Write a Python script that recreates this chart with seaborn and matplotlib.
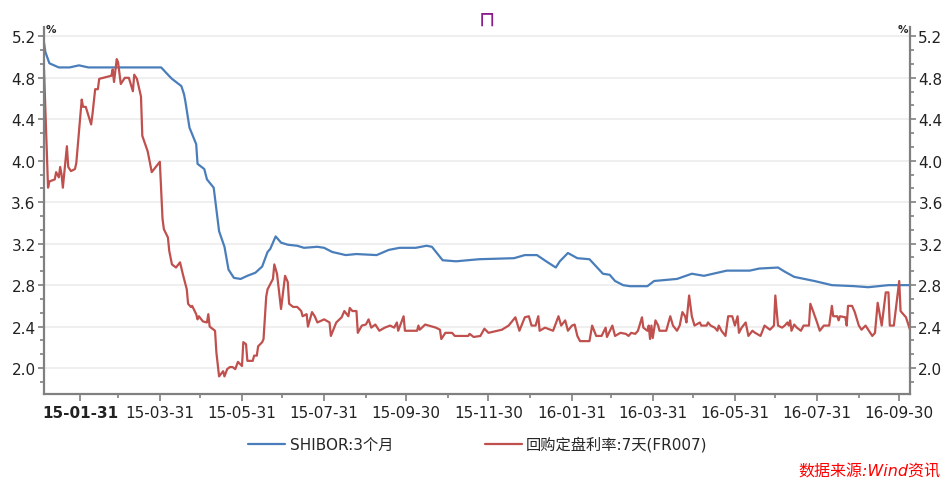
import pandas as pd
import matplotlib
matplotlib.use("Agg")
import matplotlib.pyplot as plt
import matplotlib.dates as mdates
from matplotlib.ticker import MultipleLocator, FormatStrFormatter
import seaborn as sns

# SHIBOR 3M (%)
shibor_dates = [
    "2015-01-04", "2015-01-05", "2015-01-08", "2015-01-15", "2015-01-23", "2015-01-30",
    "2015-02-06", "2015-04-01", "2015-04-06", "2015-04-09", "2015-04-16", "2015-04-18",
    "2015-04-19", "2015-04-22", "2015-04-27", "2015-04-28", "2015-05-03", "2015-05-05",
    "2015-05-10", "2015-05-14", "2015-05-18", "2015-05-21", "2015-05-25", "2015-05-30",
    "2015-06-04", "2015-06-10", "2015-06-15", "2015-06-19", "2015-06-21", "2015-06-25",
    "2015-06-29", "2015-07-04", "2015-07-11", "2015-07-16", "2015-07-26", "2015-07-31",
    "2015-08-06", "2015-08-16", "2015-08-24", "2015-09-08", "2015-09-17", "2015-09-25",
    "2015-10-07", "2015-10-15", "2015-10-19", "2015-10-27", "2015-11-06", "2015-11-23",
    "2015-12-19", "2015-12-27", "2016-01-05", "2016-01-13", "2016-01-19", "2016-01-22",
    "2016-01-28", "2016-02-04", "2016-02-13", "2016-02-23", "2016-02-28", "2016-03-03",
    "2016-03-09", "2016-03-14", "2016-03-27", "2016-04-01", "2016-04-18", "2016-04-29",
    "2016-05-08", "2016-05-25", "2016-06-11", "2016-06-18", "2016-07-02", "2016-07-07",
    "2016-07-14", "2016-07-29", "2016-08-11", "2016-08-28", "2016-09-07", "2016-09-22",
    "2016-10-08",
]
shibor_values = [
    5.14, 5.05, 4.94, 4.90, 4.90, 4.92,
    4.90, 4.90, 4.83, 4.79, 4.72, 4.64,
    4.57, 4.32, 4.16, 3.97, 3.92, 3.82,
    3.74, 3.32, 3.17, 2.95, 2.87, 2.86,
    2.89, 2.92, 2.98, 3.12, 3.15, 3.27,
    3.21, 3.19, 3.18, 3.16, 3.17, 3.16,
    3.12, 3.09, 3.10, 3.09, 3.14, 3.16,
    3.16, 3.18, 3.17, 3.04, 3.03, 3.05,
    3.06, 3.09, 3.09, 3.02, 2.97, 3.03,
    3.11, 3.06, 3.05, 2.91, 2.90, 2.84,
    2.80, 2.79, 2.79, 2.84, 2.86, 2.91,
    2.89, 2.94, 2.94, 2.96, 2.97, 2.93,
    2.88, 2.84, 2.80, 2.79, 2.78, 2.80,
    2.80,
]

# FR007 fixing repo rate (%)
fr007_dates = [
    "2015-01-04", "2015-01-07", "2015-01-08", "2015-01-12", "2015-01-13", "2015-01-15",
    "2015-01-16", "2015-01-17", "2015-01-18", "2015-01-21", "2015-01-22", "2015-01-24",
    "2015-01-27", "2015-01-28", "2015-02-01", "2015-02-02", "2015-02-04", "2015-02-08",
    "2015-02-09", "2015-02-11", "2015-02-13", "2015-02-14", "2015-02-23", "2015-02-24",
    "2015-02-25", "2015-02-27", "2015-02-28", "2015-03-02", "2015-03-05", "2015-03-08",
    "2015-03-11", "2015-03-12", "2015-03-14", "2015-03-17", "2015-03-18", "2015-03-22",
    "2015-03-25", "2015-03-31", "2015-04-02", "2015-04-03", "2015-04-06", "2015-04-07",
    "2015-04-09", "2015-04-12", "2015-04-15", "2015-04-17", "2015-04-20", "2015-04-21",
    "2015-04-23", "2015-04-24", "2015-04-27", "2015-04-28", "2015-04-29", "2015-05-02",
    "2015-05-05", "2015-05-06", "2015-05-07", "2015-05-11", "2015-05-12", "2015-05-14",
    "2015-05-17", "2015-05-18", "2015-05-20", "2015-05-22", "2015-05-24", "2015-05-26",
    "2015-05-28", "2015-05-31", "2015-06-01", "2015-06-03", "2015-06-04", "2015-06-08",
    "2015-06-09", "2015-06-11", "2015-06-12", "2015-06-15", "2015-06-16", "2015-06-18",
    "2015-06-19", "2015-06-23", "2015-06-24", "2015-06-26", "2015-06-29", "2015-07-02",
    "2015-07-04", "2015-07-05", "2015-07-08", "2015-07-11", "2015-07-14", "2015-07-15",
    "2015-07-18", "2015-07-19", "2015-07-22", "2015-07-24", "2015-07-26", "2015-07-31",
    "2015-08-04", "2015-08-05", "2015-08-09", "2015-08-13", "2015-08-15", "2015-08-18",
    "2015-08-19", "2015-08-21", "2015-08-24", "2015-08-25", "2015-08-28", "2015-08-31",
    "2015-09-02", "2015-09-04", "2015-09-07", "2015-09-10", "2015-09-14", "2015-09-18",
    "2015-09-21", "2015-09-23", "2015-09-24", "2015-09-28", "2015-09-29", "2015-10-08",
    "2015-10-09", "2015-10-10", "2015-10-14", "2015-10-22", "2015-10-25", "2015-10-26",
    "2015-10-29", "2015-11-03", "2015-11-05", "2015-11-15", "2015-11-16", "2015-11-19",
    "2015-11-24", "2015-11-27", "2015-11-30", "2015-12-10", "2015-12-15", "2015-12-20",
    "2015-12-23", "2015-12-27", "2015-12-30", "2016-01-01", "2016-01-04", "2016-01-06",
    "2016-01-07", "2016-01-11", "2016-01-15", "2016-01-17", "2016-01-21", "2016-01-23",
    "2016-01-26", "2016-01-28", "2016-01-31", "2016-02-02", "2016-02-04", "2016-02-06",
    "2016-02-13", "2016-02-15", "2016-02-18", "2016-02-22", "2016-02-25", "2016-02-26",
    "2016-03-01", "2016-03-03", "2016-03-07", "2016-03-11", "2016-03-13", "2016-03-15",
    "2016-03-18", "2016-03-20", "2016-03-23", "2016-03-24", "2016-03-27", "2016-03-28",
    "2016-03-29", "2016-03-30", "2016-03-31", "2016-04-02", "2016-04-04", "2016-04-05",
    "2016-04-10", "2016-04-13", "2016-04-15", "2016-04-18", "2016-04-20", "2016-04-22",
    "2016-04-24", "2016-04-25", "2016-04-27", "2016-04-29", "2016-05-01", "2016-05-05",
    "2016-05-06", "2016-05-10", "2016-05-11", "2016-05-13", "2016-05-16", "2016-05-18",
    "2016-05-19", "2016-05-21", "2016-05-24", "2016-05-26", "2016-05-29", "2016-05-31",
    "2016-06-02", "2016-06-03", "2016-06-05", "2016-06-08", "2016-06-10", "2016-06-13",
    "2016-06-15", "2016-06-19", "2016-06-22", "2016-06-26", "2016-06-29", "2016-06-30",
    "2016-07-02", "2016-07-05", "2016-07-07", "2016-07-09", "2016-07-10", "2016-07-11",
    "2016-07-12", "2016-07-14", "2016-07-16", "2016-07-19", "2016-07-21", "2016-07-25",
    "2016-07-26", "2016-07-28", "2016-07-31", "2016-08-02", "2016-08-05", "2016-08-09",
    "2016-08-11", "2016-08-12", "2016-08-15", "2016-08-16", "2016-08-17", "2016-08-21",
    "2016-08-22", "2016-08-23", "2016-08-26", "2016-08-28", "2016-08-31", "2016-09-02",
    "2016-09-05", "2016-09-07", "2016-09-10", "2016-09-12", "2016-09-14", "2016-09-17",
    "2016-09-20", "2016-09-22", "2016-09-23", "2016-09-26", "2016-09-30", "2016-10-01",
    "2016-10-05", "2016-10-08",
]
fr007_values = [
    4.88, 3.74, 3.80, 3.82, 3.89, 3.84,
    3.94, 3.87, 3.74, 4.14, 3.94, 3.90,
    3.92, 3.98, 4.59, 4.52, 4.52, 4.35,
    4.45, 4.69, 4.69, 4.79, 4.82, 4.88,
    4.76, 4.98, 4.95, 4.74, 4.80, 4.80,
    4.67, 4.83, 4.79, 4.62, 4.24, 4.09,
    3.89, 3.99, 3.44, 3.34, 3.26, 3.13,
    3.00, 2.97, 3.02, 2.91, 2.76, 2.62,
    2.59, 2.60, 2.52, 2.47, 2.50, 2.45,
    2.44, 2.52, 2.40, 2.36, 2.15, 1.92,
    1.97, 1.92, 1.99, 2.01, 2.01, 1.99,
    2.06, 2.02, 2.25, 2.23, 2.07, 2.07,
    2.12, 2.12, 2.21, 2.25, 2.28, 2.69,
    2.76, 2.86, 3.00, 2.91, 2.57, 2.89,
    2.83, 2.62, 2.59, 2.59, 2.55, 2.50,
    2.52, 2.40, 2.54, 2.50, 2.44, 2.47,
    2.44, 2.31, 2.44, 2.49, 2.55, 2.50,
    2.58, 2.55, 2.55, 2.34, 2.41, 2.42,
    2.47, 2.39, 2.42, 2.36, 2.39, 2.41,
    2.39, 2.44, 2.36, 2.50, 2.36, 2.36,
    2.41, 2.37, 2.42, 2.39, 2.37, 2.28,
    2.34, 2.34, 2.31, 2.31, 2.33, 2.30,
    2.31, 2.38, 2.34, 2.37, 2.41, 2.49,
    2.36, 2.49, 2.50, 2.41, 2.41, 2.50,
    2.36, 2.39, 2.37, 2.36, 2.50, 2.41,
    2.46, 2.36, 2.41, 2.42, 2.31, 2.26,
    2.26, 2.41, 2.31, 2.31, 2.39, 2.30,
    2.41, 2.31, 2.34, 2.33, 2.31, 2.34,
    2.33, 2.36, 2.49, 2.39, 2.36, 2.41,
    2.28, 2.41, 2.29, 2.46, 2.41, 2.36,
    2.36, 2.50, 2.41, 2.36, 2.41, 2.54,
    2.50, 2.44, 2.70, 2.50, 2.41, 2.44,
    2.41, 2.41, 2.44, 2.41, 2.39, 2.36,
    2.41, 2.36, 2.31, 2.50, 2.50, 2.41,
    2.50, 2.34, 2.39, 2.44, 2.31, 2.36,
    2.34, 2.31, 2.41, 2.37, 2.41, 2.70,
    2.41, 2.39, 2.41, 2.44, 2.41, 2.46,
    2.36, 2.42, 2.39, 2.36, 2.41, 2.41,
    2.62, 2.55, 2.44, 2.36, 2.41, 2.41,
    2.60, 2.50, 2.50, 2.46, 2.50, 2.49,
    2.41, 2.60, 2.60, 2.54, 2.41, 2.37,
    2.41, 2.37, 2.31, 2.34, 2.63, 2.41,
    2.73, 2.73, 2.41, 2.41, 2.84, 2.55,
    2.49, 2.37,
]

series_names = ["SHIBOR:3个月", "回购定盘利率:7天(FR007)"]
series_colors = ["#4a7ebb", "#c0504d"]

y_ticks = [2.0, 2.4, 2.8, 3.2, 3.6, 4.0, 4.4, 4.8, 5.2]
x_major = pd.date_range("2015-01-31", "2016-09-30", freq="2ME")
x_minor = pd.date_range("2015-02-28", "2016-08-31", freq="2ME")

df = pd.concat([
    pd.DataFrame({"date": pd.to_datetime(shibor_dates), "value": shibor_values, "series": series_names[0]}),
    pd.DataFrame({"date": pd.to_datetime(fr007_dates), "value": fr007_values, "series": series_names[1]}),
])

sns.set_style("white")
plt.rcParams["font.family"] = ["DejaVu Sans", "Noto Sans CJK SC"]
plt.rcParams["axes.unicode_minus"] = False

fig = plt.figure(figsize=(9.44, 4.81), dpi=100)
ax = fig.add_axes([44 / 944, 1 - 395 / 481, (910 - 44) / 944, (395 - 28) / 481])

sns.lineplot(data=df, x="date", y="value", hue="series", hue_order=series_names,
             palette=series_colors, linewidth=1.6, ax=ax, legend=False, estimator=None)

ax.set_xlim(pd.Timestamp("2015-01-04"), pd.Timestamp("2016-10-08"))
ax.set_ylim(1.75, 5.29)
ax.set_xlabel("")
ax.set_ylabel("")

ax.set_yticks(y_ticks)
ax.yaxis.set_minor_locator(MultipleLocator(0.4 / 3))
ax.yaxis.set_major_formatter(FormatStrFormatter("%.1f"))
ax.set_xticks(mdates.date2num(x_major))
ax.set_xticks(mdates.date2num(x_minor), minor=True)
ax.xaxis.set_major_formatter(mdates.DateFormatter("%y-%m-%d"))

ax.grid(axis="y", which="major", color="#ececec", linewidth=1.2)
ax.grid(axis="x", visible=False)
ax.set_axisbelow(True)

for side in ["left", "bottom", "right"]:
    ax.spines[side].set_visible(True)
    ax.spines[side].set_color("#808080")
    ax.spines[side].set_linewidth(1.6)
ax.spines["top"].set_visible(False)

ax.tick_params(axis="y", which="both", left=True, right=True, labelleft=True, labelright=True,
               direction="out", color="#808080", width=1.2, labelsize=11, labelcolor="#222222", pad=2)
ax.tick_params(axis="y", which="major", length=4)
ax.tick_params(axis="y", which="minor", length=3)
ax.tick_params(axis="x", which="both", bottom=True, direction="out", color="#808080", width=1.2,
               labelsize=11, labelcolor="#222222", pad=3)
ax.tick_params(axis="x", which="major", length=5)
ax.tick_params(axis="x", which="minor", length=3)

fig.canvas.draw()
ax.get_xticklabels()[0].set_fontweight("bold")

ax.text(0.002, 0.995, "%", transform=ax.transAxes, fontsize=7.5, fontweight="bold", ha="left", va="center")
ax.text(0.998, 0.995, "%", transform=ax.transAxes, fontsize=7.5, fontweight="bold", ha="right", va="center")

fig.text(487 / 944, 1 - 20 / 481, "⊓", color="#8b1a8b", fontsize=15, ha="center", va="center")

handles = [plt.Line2D([], [], color=c, linewidth=1.6) for c in series_colors]
fig.legend(handles, series_names, loc="center", bbox_to_anchor=(478 / 944, 1 - 445 / 481), ncol=2,
           frameon=False, fontsize=11, handlelength=2.4, handletextpad=0.3, columnspacing=6.0)

fig.text(0.996, 1 - 472 / 481, "数据来源:Wind资讯", color="red", fontsize=11.5, style="italic",
         ha="right", va="center")

fig.savefig("out.png", dpi=100)
